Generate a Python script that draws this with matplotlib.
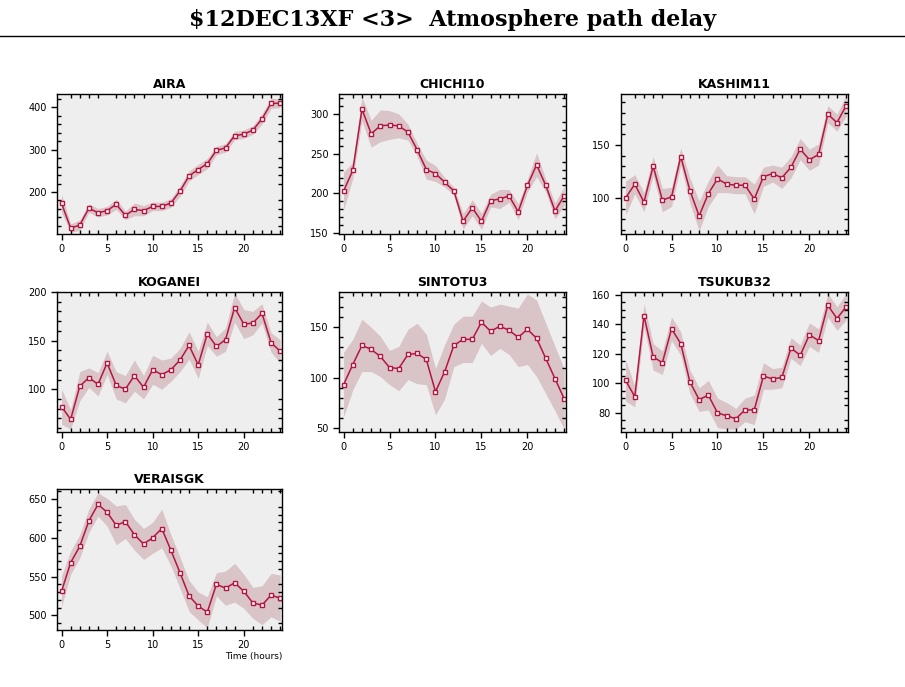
import matplotlib
matplotlib.use("Agg")
import matplotlib.pyplot as plt
import numpy as np
from matplotlib.ticker import MultipleLocator

# hours
hours = list(range(25))

# station names
stations = ["AIRA", "CHICHI10", "KASHIM11", "KOGANEI", "SINTOTU3", "TSUKUB32", "VERAISGK"]

# path delay
aira = [173, 115, 122, 162, 151, 156, 171, 145, 159, 156, 166, 166, 174, 202, 238,
        253, 267, 298, 304, 333, 336, 346, 372, 409, 409]
aira_err = [22, 10, 12, 10, 10, 10, 12, 10, 15, 12, 10, 10, 10, 12, 12,
            12, 12, 10, 10, 10, 10, 10, 12, 12, 10]

chichi10 = [203, 229, 306, 275, 285, 286, 285, 277, 255, 230, 225, 214, 203, 165, 182,
            165, 191, 193, 197, 177, 210, 236, 210, 178, 197]
chichi10_err = [24, 10, 15, 17, 20, 18, 15, 10, 8, 12, 10, 6, 5, 10, 10,
                10, 8, 12, 8, 10, 8, 15, 8, 10, 12]

kashim11 = [100, 113, 96, 130, 98, 101, 139, 107, 83, 104, 118, 113, 112, 112, 99,
            120, 123, 119, 129, 146, 136, 141, 179, 171, 187]
kashim11_err = [16, 9, 9, 9, 11, 9, 8, 12, 14, 12, 13, 8, 8, 8, 14,
                9, 8, 10, 10, 10, 10, 10, 8, 8, 10]

koganei = [82, 69, 103, 112, 105, 127, 104, 100, 114, 102, 120, 115, 120, 130, 145,
           125, 157, 144, 151, 184, 167, 168, 178, 148, 139]
koganei_err = [18, 10, 15, 10, 12, 12, 14, 14, 16, 12, 15, 15, 12, 12, 14,
               14, 12, 10, 12, 15, 15, 12, 10, 10, 12]

sintotu3 = [93, 113, 132, 128, 121, 110, 109, 123, 124, 118, 86, 106, 132, 138, 138,
            155, 146, 151, 147, 140, 148, 139, 119, 99, 79]
sintotu3_err = [32, 25, 26, 22, 20, 17, 22, 25, 30, 25, 23, 27, 21, 23, 23,
                21, 24, 22, 24, 29, 35, 38, 35, 32, 30]

tsukub32 = [102, 91, 146, 118, 114, 137, 127, 101, 89, 92, 80, 78, 76, 82, 82,
            105, 103, 104, 124, 119, 133, 129, 153, 144, 152]
tsukub32_err = [14, 7, 8, 9, 8, 8, 8, 8, 8, 10, 10, 9, 7, 8, 10,
                9, 7, 7, 7, 7, 8, 8, 8, 8, 9]

veraisgk = [531, 568, 589, 622, 643, 633, 616, 621, 604, 592, 600, 612, 584, 555, 525,
            512, 504, 540, 535, 542, 531, 516, 513, 526, 522]
veraisgk_err = [20, 15, 15, 15, 15, 18, 25, 22, 20, 20, 20, 25, 20, 20, 20,
                18, 20, 15, 22, 25, 22, 20, 25, 28, 30]

values = [aira, chichi10, kashim11, koganei, sintotu3, tsukub32, veraisgk]
errors = [aira_err, chichi10_err, kashim11_err, koganei_err, sintotu3_err, tsukub32_err, veraisgk_err]

# axis ranges and tick spacing (major, minor) for each panel
ylims = [(101, 431), (149, 325), (66, 198), (56, 200), (46, 185), (67, 162), (481, 663)]
yticks = [(100, 20), (50, 10), (50, 10), (50, 10), (50, 10), (20, 5), (50, 10)]

# panel boxes in pixels: left, right, top, bottom
cols = [(57, 282), (339, 566), (621, 848)]
rows = [(94, 234), (292, 432), (489, 630)]

line_col = "#b5163f"
band_col = "#d9c4c8"
W, H = 905, 687

fig = plt.figure(figsize=(W / 100, H / 100), dpi=100)

fig.text(0.5, 1 - 20 / H, "$12DEC13XF <3>  Atmosphere path delay", ha="center", va="center",
         fontsize=16, fontweight="bold", family="DejaVu Serif")
fig.add_artist(plt.Line2D([0, 1], [1 - 36 / H, 1 - 36 / H], color="black", lw=1))

for i, name in enumerate(stations):
    l, r = cols[i % 3]
    t, b = rows[i // 3]
    ax = fig.add_axes([l / W, 1 - b / H, (r - l) / W, (b - t) / H])
    ax.set_facecolor("#eeeeee")
    v = np.array(values[i])
    e = np.array(errors[i])
    ax.fill_between(hours, v - e, v + e, color=band_col, lw=0)
    ax.plot(hours, v, color=line_col, lw=1.1, marker="s", ms=3.5,
            mfc="white", mec=line_col, mew=1)
    ax.set_xlim(-0.5, 24.2)
    ax.set_ylim(*ylims[i])
    ax.xaxis.set_major_locator(MultipleLocator(5))
    ax.xaxis.set_minor_locator(MultipleLocator(1))
    ax.yaxis.set_major_locator(MultipleLocator(yticks[i][0]))
    ax.yaxis.set_minor_locator(MultipleLocator(yticks[i][1]))
    ax.tick_params(which="major", direction="out", length=4, labelsize=7, width=1)
    ax.tick_params(which="minor", direction="in", length=3, width=1, top=True, right=True)
    ax.tick_params(which="major", top=False, right=False)
    for s in ax.spines.values():
        s.set_linewidth(1)
    ax.set_title(name, fontsize=9, fontweight="bold", pad=4)
    if name == "VERAISGK":
        ax.set_xlabel("Time (hours)", fontsize=6.5, loc="right", labelpad=1)

fig.savefig("out.png", dpi=100)
